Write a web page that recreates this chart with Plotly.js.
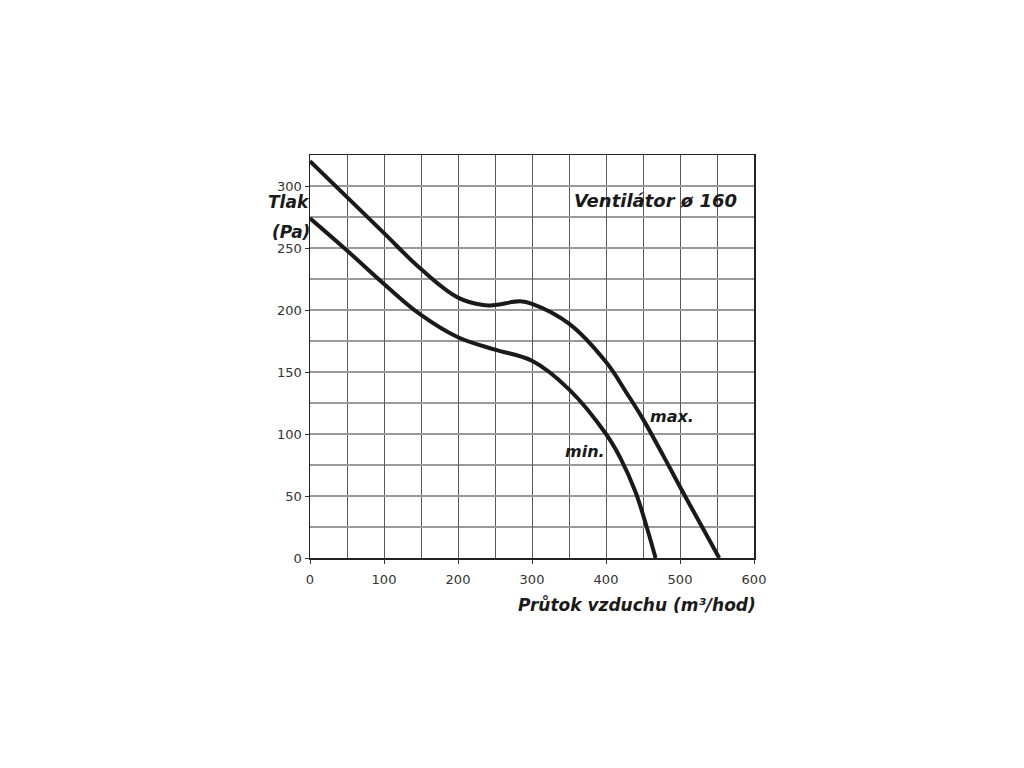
<!DOCTYPE html>
<html>
<head>
<meta charset="utf-8">
<script src="https://cdn.plot.ly/plotly-3.0.1.min.js"></script>
<style>
  body { margin: 0; background: #fff; }
  #chart { width: 1024px; height: 768px; }
</style>
</head>
<body>
<div id="chart"></div>
<script>
// prutok vzduchu (m3/hod) vs tlak (Pa)
const max_flow = [0, 50, 100, 150, 200, 234, 250, 284, 300, 350, 400, 428, 450, 486, 504, 529, 553]
const max_pressure = [320, 291, 262, 233, 210, 204, 204, 207, 205, 189, 158, 133, 112, 73, 53, 26, 0]

const min_flow = [0, 50, 100, 150, 200, 250, 300, 350, 400, 420, 440, 455, 467]
const min_pressure = [274, 248, 221, 196, 178, 168, 159, 136, 100, 80, 53, 25, 0]

const x_ticks = [0, 100, 200, 300, 400, 500, 600]
const y_ticks = [0, 50, 100, 150, 200, 250, 300]

const font_bold = 'DejaVu Sans, Verdana, sans-serif'

function curve(x, y) {
    return {
        x: x,
        y: y,
        mode: 'lines',
        line: { color: '#1a1a1a', width: 4, shape: 'spline', smoothing: 1.1 },
        hoverinfo: 'skip',
        showlegend: false,
    }
}

const data = [curve(max_flow, max_pressure), curve(min_flow, min_pressure)]

var layout = {
    width: 1024,
    height: 768,
    margin: { l: 310, r: 270, t: 155, b: 210 },
    paper_bgcolor: '#ffffff',
    plot_bgcolor: '#ffffff',
    font: { family: 'DejaVu Sans, sans-serif', color: '#333' },
    xaxis: {
        range: [0, 600],
        tickvals: x_ticks,
        ticks: 'outside', ticklen: 4, tickcolor: '#333',
        ticklabelstandoff: 5,
        tickfont: { size: 13, color: '#333' },
        showgrid: true, gridcolor: '#5a5a5a', gridwidth: 1,
        minor: { dtick: 50, tick0: 0, showgrid: true, gridcolor: '#5a5a5a', gridwidth: 1 },
        showline: true, linecolor: '#222', linewidth: 1.5, mirror: true,
        zeroline: false, fixedrange: true,
    },
    yaxis: {
        range: [0, 325],
        tickvals: y_ticks,
        ticks: 'outside', ticklen: 4, tickcolor: '#333',
        tickfont: { size: 13, color: '#333' },
        showgrid: true, gridcolor: '#9a9a9a', gridwidth: 1.6,
        minor: { dtick: 25, tick0: 0, showgrid: true, gridcolor: '#9a9a9a', gridwidth: 1.6 },
        showline: true, linecolor: '#222', linewidth: 1.5, mirror: true,
        zeroline: false, fixedrange: true,
    },
    annotations: [
        {
            text: '<b><i>Ventilátor ø 160</i></b>',
            x: 467, y: 288, xref: 'x', yref: 'y',
            showarrow: false, font: { family: font_bold, size: 18, color: '#1a1a1a' },
        },
        {
            text: '<b><i>max.</i></b>',
            x: 489, y: 114, xref: 'x', yref: 'y',
            showarrow: false, font: { family: font_bold, size: 16, color: '#1a1a1a' },
        },
        {
            text: '<b><i>min.</i></b>',
            x: 372, y: 86, xref: 'x', yref: 'y',
            showarrow: false, font: { family: font_bold, size: 16, color: '#1a1a1a' },
        },
        {
            text: '<b><i>Tlak</i></b>',
            x: 0, y: 287, xref: 'paper', yref: 'y', xanchor: 'right', xshift: 2,
            showarrow: false, font: { family: font_bold, size: 17, color: '#1a1a1a' },
        },
        {
            text: '<b><i>(Pa)</i></b>',
            x: 0, y: 263, xref: 'paper', yref: 'y', xanchor: 'right', xshift: 2,
            showarrow: false, font: { family: font_bold, size: 17, color: '#1a1a1a' },
        },
        {
            text: '<b><i>Průtok vzduchu (m³/hod)</i></b>',
            x: 1, y: -0.117, xref: 'paper', yref: 'paper', xanchor: 'right', yanchor: 'middle', xshift: 4,
            showarrow: false, font: { family: font_bold, size: 17, color: '#1a1a1a' },
        },
    ],
}

Plotly.newPlot('chart', data, layout, { displayModeBar: false, staticPlot: true })
</script>
</body>
</html>
